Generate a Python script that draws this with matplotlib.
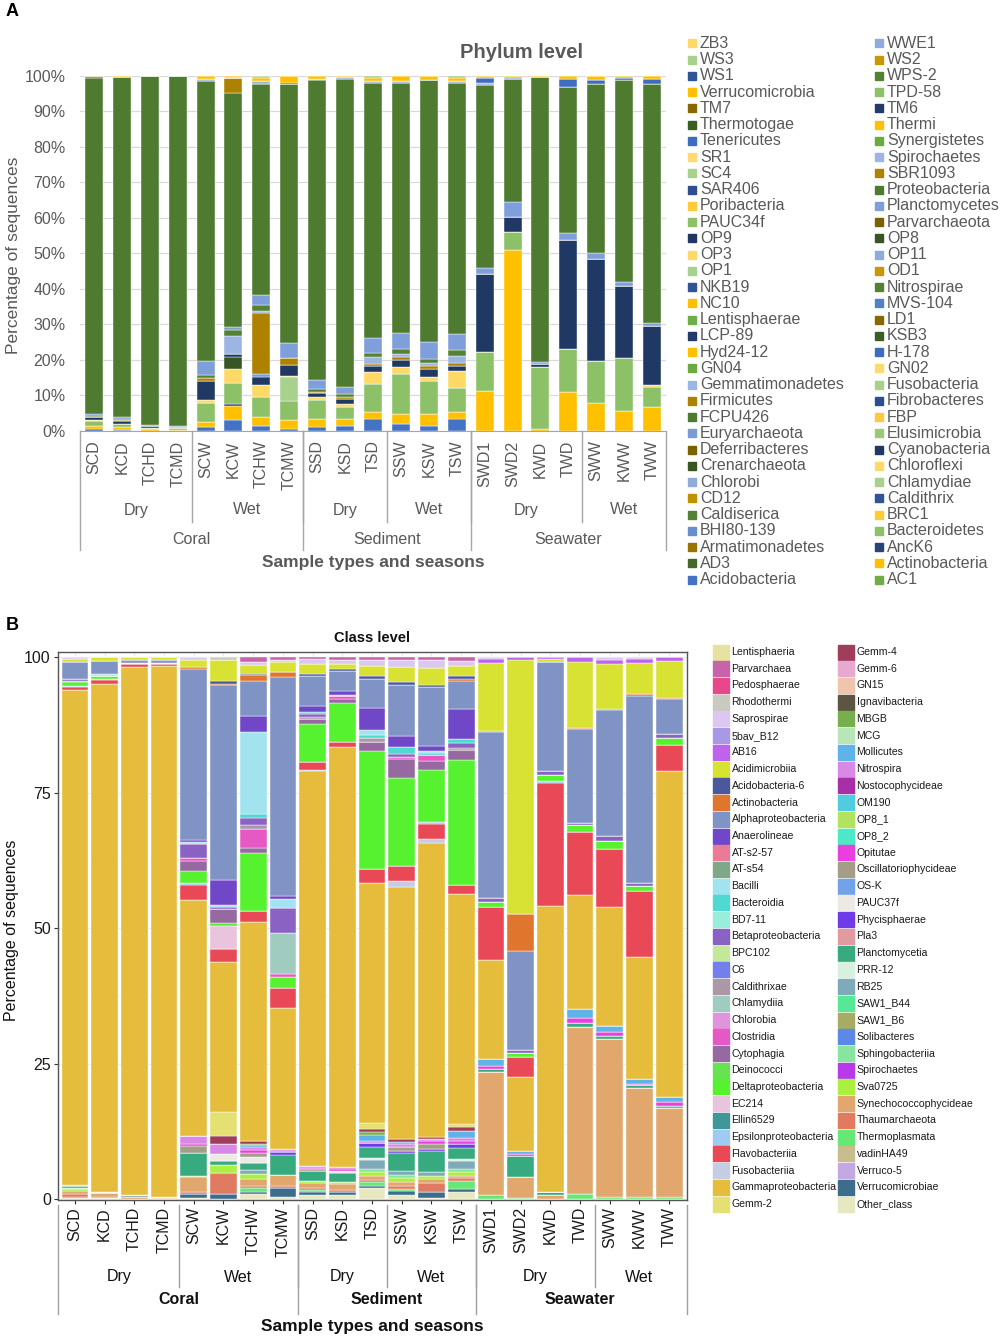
import matplotlib
matplotlib.use("Agg")
import matplotlib.pyplot as plt
import matplotlib.transforms as mtrans
import numpy as np
from matplotlib.patches import Rectangle
from matplotlib.lines import Line2D

plt.rcParams['font.family'] = ['Liberation Sans', 'DejaVu Sans']

# ---------------- samples / groups ----------------
samples = ["SCD", "KCD", "TCHD", "TCMD", "SCW", "KCW", "TCHW", "TCMW",
           "SSD", "KSD", "TSD", "SSW", "KSW", "TSW",
           "SWD1", "SWD2", "KWD", "TWD", "SWW", "KWW", "TWW"]
seasons = ["Dry", "Wet", "Dry", "Wet", "Dry", "Wet"]
season_n = [4, 4, 3, 3, 4, 3]
types = ["Coral", "Sediment", "Seawater"]
type_n = [8, 6, 7]

# ---------------- panel A: phylum level (%) ----------------
phy_acidobacteria = [0.5, 0.3, 0, 0, 0.9, 3.1, 1.4, 0.5, 1.1, 1.4, 3.3, 2.0, 1.3, 3.3, 0, 0, 0, 0, 0, 0, 0]
phy_actinobacteria = [0.9, 0.7, 0.4, 0.3, 1.5, 3.8, 2.5, 2.5, 2.2, 1.9, 1.9, 2.7, 3.4, 2.1, 11.3, 50.8, 0.5, 11.0, 7.7, 5.6, 6.8]
phy_anck6 = [0, 0, 0, 0, 0, 0.6, 0, 0, 0, 0, 0, 0, 0, 0, 0, 0, 0, 0, 0, 0, 0]
phy_bacteroidetes = [1.4, 0.9, 0.5, 0.5, 5.3, 5.7, 5.7, 5.3, 5.2, 3.3, 8.0, 11.3, 9.3, 6.8, 10.8, 5.1, 17.4, 12.0, 11.8, 14.8, 5.6]
phy_chlamydiae = [0, 0, 0, 0, 0, 0, 0, 6.7, 0, 0, 0, 0, 0, 0, 0, 0, 0, 0, 0, 0, 0]
phy_chloroflexi = [0.2, 0, 0, 0, 0.8, 4.0, 3.4, 0.5, 1.0, 0.9, 3.3, 2.0, 1.0, 4.8, 0, 0, 0, 0, 0, 0, 0.5]
phy_crenarchaeota = [0, 0, 0, 0, 0, 3.3, 0, 0, 0, 0, 0, 0, 0, 0, 0, 0, 0, 0, 0, 0, 0]
phy_cyanobacteria = [0.8, 0.9, 0.3, 0.2, 5.5, 0.8, 2.0, 3.0, 1.0, 1.5, 1.6, 2.0, 2.4, 1.4, 22.1, 4.3, 0.9, 30.6, 28.9, 20.2, 16.7]
phy_euryarchaeota = [0, 0, 0, 0, 0, 0, 1.0, 0, 0, 0, 0, 0, 0, 0, 0, 0, 0, 0, 0, 0, 0]
phy_firmicutes = [0, 0.3, 0, 0, 0.7, 0, 17.0, 2.0, 0.5, 0.5, 0.5, 0.6, 0.8, 0.8, 0, 0, 0, 0, 0, 0, 0]
phy_gemmatimonadetes = [0, 0, 0, 0, 0, 5.2, 0.8, 0, 0, 0, 2.0, 1.0, 1.0, 1.8, 0, 0, 0, 0, 0, 0, 0]
phy_nitrospirae = [0.2, 0.2, 0, 0, 1.0, 1.6, 1.5, 0, 0.8, 0.7, 1.2, 1.4, 1.0, 1.8, 0, 0, 0, 0, 0, 0, 0]
phy_planctomycetes = [0.7, 0.5, 0.4, 0.3, 4.0, 0.9, 2.8, 4.2, 2.5, 2.0, 4.2, 4.5, 4.7, 4.4, 1.7, 4.2, 0.5, 1.9, 1.6, 1.3, 0.7]
phy_proteobacteria = [94.6, 95.8, 98.2, 98.5, 78.5, 65.4, 59.6, 72.9, 84.1, 86.8, 71.2, 70.2, 73.8, 71.1, 51.4, 34.5, 80.3, 41.1, 47.6, 56.8, 67.4]
phy_sbr1093 = [0.7, 0, 0, 0, 0, 4.0, 0, 0, 0, 0, 0, 0, 0, 0, 0, 0, 0, 0, 0, 0, 0]
phy_spirochaetes = [0, 0, 0, 0, 0.5, 0, 0.8, 0, 0.3, 0.5, 0.6, 0.5, 0, 0.6, 0.5, 0, 0, 0, 0, 0, 0]
phy_tenericutes = [0, 0, 0, 0, 0, 0, 0, 0, 0, 0, 0, 0, 0, 0, 1.5, 0.5, 0, 2.1, 1.2, 0.6, 1.2]
phy_tm6 = [0, 0, 0, 0, 0, 0, 0, 0.3, 0, 0, 0, 0, 0, 0, 0, 0, 0, 0, 0, 0, 0]
phy_verrucomicrobia = [0, 0.4, 0.2, 0.2, 1.0, 0, 0.8, 2.1, 1.0, 0.5, 1.0, 1.6, 1.3, 0.8, 0.7, 0.6, 0.4, 1.0, 1.2, 0.7, 1.1]
phy_ws3 = [0, 0, 0, 0, 0, 0, 0.7, 0, 0, 0, 0.6, 0, 0, 0.7, 0, 0, 0, 0, 0, 0, 0]
phy_zb3 = [0, 0, 0, 0, 0, 0.8, 0, 0, 0, 0, 0, 0, 0, 0, 0, 0, 0, 0, 0, 0, 0]

phyla = ["AC1", "Acidobacteria", "Actinobacteria", "AD3", "AncK6", "Armatimonadetes",
         "Bacteroidetes", "BHI80-139", "BRC1", "Caldiserica", "Caldithrix", "CD12",
         "Chlamydiae", "Chlorobi", "Chloroflexi", "Crenarchaeota", "Cyanobacteria",
         "Deferribacteres", "Elusimicrobia", "Euryarchaeota", "FBP", "FCPU426",
         "Fibrobacteres", "Firmicutes", "Fusobacteria", "Gemmatimonadetes", "GN02",
         "GN04", "H-178", "Hyd24-12", "KSB3", "LCP-89", "LD1", "Lentisphaerae",
         "MVS-104", "NC10", "Nitrospirae", "NKB19", "OD1", "OP1", "OP11", "OP3",
         "OP8", "OP9", "Parvarchaeota", "PAUC34f", "Planctomycetes", "Poribacteria",
         "Proteobacteria", "SAR406", "SBR1093", "SC4", "Spirochaetes", "SR1",
         "Synergistetes", "Tenericutes", "Thermi", "Thermotogae", "TM6", "TM7",
         "TPD-58", "Verrucomicrobia", "WPS-2", "WS1", "WS2", "WS3", "WWE1", "ZB3"]
phy_colors = ["#70AD47", "#4472C4", "#FFC000", "#43682B", "#264478", "#997300",
              "#8CC168", "#698ED0", "#FFCD33", "#548235", "#2F5597", "#BF9000",
              "#A9D18E", "#8FAADC", "#FFD966", "#375623", "#1F3864", "#7F6000",
              "#9BC97A", "#7C9BD6", "#FFC93C", "#4E7B2F", "#2E4F8F", "#AD8200",
              "#A9D18E", "#9DB5E3", "#FFDA70", "#6AAA3F", "#3E6CC0", "#FFC000",
              "#3C5E25", "#213B6B", "#8A6800", "#70AD47", "#5580C8", "#FFC000",
              "#548235", "#2F5597", "#C99700", "#A9D18E", "#8FAADC", "#FFD966",
              "#375623", "#1F3864", "#7F6000", "#8CC168", "#7F9FDB", "#FFC93C",
              "#4E7B2F", "#2E4F8F", "#AD8200", "#A9D18E", "#9DB5E3", "#FFDA70",
              "#6AAA3F", "#3E6CC0", "#FFC000", "#3C5E25", "#213B6B", "#8A6800",
              "#8CC168", "#FFC000", "#548235", "#2F5597", "#C99700", "#A9D18E",
              "#8FAADC", "#FFD966"]

phy_data = {"Acidobacteria": phy_acidobacteria, "Actinobacteria": phy_actinobacteria,
            "AncK6": phy_anck6, "Bacteroidetes": phy_bacteroidetes,
            "Chlamydiae": phy_chlamydiae, "Chloroflexi": phy_chloroflexi,
            "Crenarchaeota": phy_crenarchaeota, "Cyanobacteria": phy_cyanobacteria,
            "Euryarchaeota": phy_euryarchaeota, "Firmicutes": phy_firmicutes,
            "Gemmatimonadetes": phy_gemmatimonadetes, "Nitrospirae": phy_nitrospirae,
            "Planctomycetes": phy_planctomycetes, "Proteobacteria": phy_proteobacteria,
            "SBR1093": phy_sbr1093, "Spirochaetes": phy_spirochaetes,
            "Tenericutes": phy_tenericutes, "TM6": phy_tm6,
            "Verrucomicrobia": phy_verrucomicrobia, "WS3": phy_ws3, "ZB3": phy_zb3}

# ---------------- panel B: class level (%) ----------------
cls_parvarchaea = [0, 0, 0, 0, 0, 0, 0.8, 0.5, 0.3, 0.5, 0.5, 0.5, 0.5, 0.7, 0, 0, 0, 0, 0, 0, 0]
cls_rhodothermi = [0, 0, 0, 0, 0, 0.5, 0, 0, 0, 0, 0, 0, 0, 0, 0, 0, 0, 0, 0, 0, 0]
cls_saprospirae = [0.2, 0, 0, 0, 0.5, 0, 0.5, 0.4, 0.9, 0.7, 1.0, 1.2, 1.4, 0.9, 0.2, 0, 0, 0, 0.5, 0.3, 0]
cls_ab16 = [0, 0, 0, 0, 0, 0, 0, 0, 0, 0, 0, 0, 0, 0, 0.8, 0.5, 0.3, 0.8, 0.7, 0.7, 0.7]
cls_acidimicrobiia = [0.7, 0.7, 0.4, 0.5, 1.2, 3.8, 1.7, 1.7, 1.9, 1.0, 1.9, 2.7, 3.0, 1.8, 12.3, 46.1, 0.5, 12.0, 8.2, 5.8, 6.7]
cls_acidobacteria6 = [0, 0, 0, 0, 0, 0.5, 0.3, 0, 0.3, 0.3, 0.5, 0.5, 0.4, 0.5, 0, 0, 0, 0, 0, 0, 0]
cls_actinobacteria = [0, 0, 0, 0, 0.4, 0.2, 1.0, 0.9, 0, 0, 0, 0, 0, 0.3, 0.2, 6.8, 0, 0.2, 0.2, 0.2, 0.2]
cls_alpha = [3.0, 2.4, 0.7, 0.5, 31.2, 35.5, 6.4, 39.7, 5.6, 3.6, 5.3, 9.1, 10.7, 5.1, 30.2, 17.9, 20.0, 17.0, 23.0, 34.5, 6.5]
cls_anaerolineae = [0, 0, 0, 0, 0.5, 4.6, 2.9, 0.5, 1.0, 0.7, 4.1, 1.9, 0.9, 5.5, 0, 0, 0, 0, 0, 0, 0]
cls_bacilli = [0, 0.3, 0, 0, 0.4, 0.3, 15.0, 1.7, 0, 0, 0.9, 0, 0.3, 0, 0, 0, 0, 0, 0, 0, 0]
cls_bacteroidia = [0, 0, 0, 0, 0, 0, 0.7, 0, 0.3, 0.3, 0.5, 1.4, 0.3, 0.7, 0, 0, 0, 0, 0, 0, 0]
cls_beta = [0.4, 0, 0, 0, 2.5, 0.4, 1.4, 4.6, 0.7, 0, 0, 0.5, 0, 1.0, 0.7, 0.5, 0.7, 0.5, 0.9, 0.5, 0.7]
cls_caldithrixae = [0, 0, 0, 0, 0, 0, 0.7, 0, 0.3, 0, 0.7, 0, 0, 0.4, 0, 0, 0, 0, 0, 0, 0]
cls_chlamydiia = [0, 0, 0, 0, 0, 0, 0, 7.4, 0, 0, 0, 0, 0, 0, 0, 0, 0, 0, 0, 0, 0]
cls_clostridia = [0, 0, 0, 0, 0.5, 0, 3.4, 0.5, 0, 0.4, 0, 0.3, 1.2, 0, 0, 0, 0, 0, 0, 0, 0]
cls_cytophagia = [0.2, 0, 0, 0, 1.9, 2.5, 0.9, 0, 0.9, 0.8, 1.7, 3.4, 1.6, 1.7, 0, 0, 0, 0, 0, 0, 0]
cls_delta = [0.7, 0.6, 0.2, 0.2, 2.2, 0.7, 10.7, 2.0, 7.0, 7.1, 21.5, 15.7, 9.2, 22.7, 0.9, 0.8, 1.2, 1.2, 1.5, 0.8, 1.2]
cls_ec214 = [0, 0, 0, 0, 0, 4.1, 0, 0, 0, 0, 0, 0, 0, 0, 0, 0, 0, 0, 0, 0, 0]
cls_epsilon = [0.2, 0.2, 0, 0, 0.3, 0, 0, 0, 0, 0, 0, 0, 0.5, 0, 0, 0, 0.3, 0, 0, 0, 0]
cls_flavo = [0.6, 0.7, 0.5, 0.3, 2.7, 2.3, 2.0, 3.6, 1.5, 1.0, 2.6, 2.6, 2.7, 1.7, 9.7, 3.6, 22.7, 11.5, 10.5, 12.3, 4.8]
cls_fuso = [0, 0, 0, 0, 0, 0, 0, 0, 0.2, 0, 0, 1.2, 0.7, 0, 0, 0, 0, 0, 0, 0, 0]
cls_gamma = [91.4, 93.0, 97.3, 97.8, 43.3, 27.4, 40.1, 25.5, 72.4, 76.5, 43.8, 44.9, 52.8, 41.8, 18.0, 13.5, 52.5, 20.7, 21.7, 22.3, 59.8]
cls_gemm2 = [0, 0, 0, 0, 0, 4.3, 0, 0, 0, 0, 1.0, 0, 0, 0.5, 0, 0, 0, 0, 0, 0, 0]
cls_gemm4 = [0, 0, 0, 0, 0, 1.5, 0.4, 0, 0, 0, 0.7, 0.4, 0.3, 0.7, 0, 0, 0, 0, 0, 0, 0]
cls_mbgb = [0, 0, 0, 0, 0, 0, 0.3, 0, 0, 0, 0.5, 0, 0, 0, 0, 0, 0, 0, 0, 0, 0]
cls_mollicutes = [0, 0, 0, 0, 0, 0, 0.3, 0, 0, 0, 1.0, 0.5, 0, 1.4, 1.2, 0.5, 0, 1.6, 1.2, 0.9, 0.9]
cls_nitrospira = [0, 0, 0, 0, 1.4, 1.9, 0.6, 0.4, 0.3, 0.3, 0.4, 0.5, 0.5, 0.5, 0, 0, 0, 0, 0, 0, 0]
cls_opitutae = [0.2, 0, 0, 0, 0.3, 0, 0.5, 0.3, 0.3, 0.4, 0, 0, 0.5, 0.5, 0.6, 0.4, 0, 0.9, 0.7, 0.3, 0.7]
cls_oscillatorio = [0, 0, 0, 0, 1.4, 0, 0.8, 0, 0.4, 0, 0, 0.7, 0.9, 0, 0, 0, 0, 0, 0, 0, 0]
cls_pauc37f = [0, 0, 0, 0, 0, 1.2, 1.0, 0, 0, 0.3, 0, 0, 0, 0, 0, 0, 0, 0, 0, 0, 0]
cls_phycisphaerae = [0, 0, 0, 0, 0, 0, 0, 0.4, 0, 0, 0.7, 0.4, 0.4, 0.7, 0, 0, 0, 0, 0, 0, 0]
cls_planctomycetia = [0.3, 0.3, 0, 0, 4.1, 0.7, 1.3, 3.7, 1.8, 1.7, 2.0, 3.2, 3.7, 2.0, 0.5, 3.8, 0.5, 0.7, 0.6, 0.5, 0.5]
cls_prr12 = [0, 0, 0, 0, 0, 0, 0, 0, 0, 0, 0.5, 0, 0, 0.5, 0, 0, 0, 0, 0, 0, 0]
cls_rb25 = [0, 0, 0.3, 0.2, 0, 0, 0.8, 0, 0, 0, 1.6, 0.7, 0.7, 1.4, 0, 0, 0, 0, 0, 0, 0]
cls_sphingo = [0.2, 0, 0, 0, 0, 0, 0, 0, 0, 0, 0.5, 0.5, 0, 0.5, 0, 0, 0, 0, 0, 0, 0]
cls_sva0725 = [0.3, 0, 0, 0, 0.3, 1.5, 0.8, 0, 0.4, 0.4, 0.7, 0.7, 0.5, 0.7, 0, 0, 0, 0, 0, 0, 0]
cls_synecho = [0.6, 0.6, 0.4, 0.3, 2.7, 0, 1.4, 1.9, 0.8, 1.0, 0.7, 0.7, 0.7, 0.5, 22.4, 3.7, 0.8, 30.4, 28.7, 19.9, 16.2]
cls_thaum = [0.5, 0.3, 0, 0, 0.3, 3.8, 0.3, 0.5, 0.4, 0.4, 0.5, 0.5, 1.7, 0.5, 0, 0, 0, 0, 0, 0, 0]
cls_thermoplasmata = [0, 0, 0, 0, 0, 0, 0.7, 0, 0.4, 0, 0.7, 0.5, 0, 1.4, 0.7, 0.3, 0, 0.9, 0.5, 0.5, 0.5]
cls_verrucomicrobiae = [0.3, 0, 0, 0, 0.7, 0.9, 0.4, 1.5, 0.6, 0.5, 0.4, 0.7, 1.0, 0.5, 0, 0, 0, 0, 0, 0, 0]
cls_other = [0.2, 0.2, 0, 0, 0.3, 0.1, 1.0, 0.5, 0.7, 0.8, 2.0, 0.7, 0.3, 1.4, 0, 0, 0, 0, 0, 0, 0]

classes = ["Lentisphaeria", "Parvarchaea", "Pedosphaerae", "Rhodothermi", "Saprospirae",
           "5bav_B12", "AB16", "Acidimicrobiia", "Acidobacteria-6", "Actinobacteria",
           "Alphaproteobacteria", "Anaerolineae", "AT-s2-57", "AT-s54", "Bacilli",
           "Bacteroidia", "BD7-11", "Betaproteobacteria", "BPC102", "C6", "Caldithrixae",
           "Chlamydiia", "Chlorobia", "Clostridia", "Cytophagia", "Deinococci",
           "Deltaproteobacteria", "EC214", "Ellin6529", "Epsilonproteobacteria",
           "Flavobacteriia", "Fusobacteriia", "Gammaproteobacteria", "Gemm-2",
           "Gemm-4", "Gemm-6", "GN15", "Ignavibacteria", "MBGB", "MCG", "Mollicutes",
           "Nitrospira", "Nostocophycideae", "OM190", "OP8_1", "OP8_2", "Opitutae",
           "Oscillatoriophycideae", "OS-K", "PAUC37f", "Phycisphaerae", "Pla3",
           "Planctomycetia", "PRR-12", "RB25", "SAW1_B44", "SAW1_B6", "Solibacteres",
           "Sphingobacteriia", "Spirochaetes", "Sva0725", "Synechococcophycideae",
           "Thaumarchaeota", "Thermoplasmata", "vadinHA49", "Verruco-5",
           "Verrucomicrobiae", "Other_class"]
cls_colors = ["#E6E3A1", "#C862A9", "#E8488A", "#C9C9BD", "#DBC7EF", "#A998E5", "#BD63EE",
              "#D7E233", "#4A589C", "#E0762E", "#7F93C4", "#7047C7", "#E97B98", "#7FA889",
              "#A1E4EF", "#4FDAD1", "#96EEDB", "#8A62C3", "#C4E899", "#737FEE", "#AA98A9",
              "#A0CCC0", "#E094DC", "#E659C5", "#966AA0", "#66E253", "#57F22F", "#E8C5DD",
              "#3F9897", "#A0CAF0", "#E94856", "#C5CDE2", "#E5BC3B", "#E4E072", "#9F3D5A",
              "#E8A9D1", "#F0C5AD", "#5C5541", "#77AF4A", "#B8E6B8", "#5FB3E6", "#D889E6",
              "#A92FA6", "#4FCCE0", "#B1E35E", "#4DE9C6", "#E83FDE", "#A49D88", "#72A3EA",
              "#EDEAE6", "#6F3BE8", "#E09B9F", "#37AB7F", "#D7F1DF", "#7FAABA", "#57E896",
              "#A7AC62", "#5A89E6", "#88E5A0", "#B838EA", "#A9F040", "#E1A76C", "#E07B62",
              "#67E876", "#C8BD8E", "#C4A8E4", "#3D6D8B", "#E7E7C0"]

cls_data = {"Parvarchaea": cls_parvarchaea, "Rhodothermi": cls_rhodothermi,
            "Saprospirae": cls_saprospirae, "AB16": cls_ab16,
            "Acidimicrobiia": cls_acidimicrobiia, "Acidobacteria-6": cls_acidobacteria6,
            "Actinobacteria": cls_actinobacteria, "Alphaproteobacteria": cls_alpha,
            "Anaerolineae": cls_anaerolineae, "Bacilli": cls_bacilli,
            "Bacteroidia": cls_bacteroidia, "Betaproteobacteria": cls_beta,
            "Caldithrixae": cls_caldithrixae, "Chlamydiia": cls_chlamydiia,
            "Clostridia": cls_clostridia, "Cytophagia": cls_cytophagia,
            "Deltaproteobacteria": cls_delta, "EC214": cls_ec214,
            "Epsilonproteobacteria": cls_epsilon, "Flavobacteriia": cls_flavo,
            "Fusobacteriia": cls_fuso, "Gammaproteobacteria": cls_gamma,
            "Gemm-2": cls_gemm2, "Gemm-4": cls_gemm4, "MBGB": cls_mbgb,
            "Mollicutes": cls_mollicutes, "Nitrospira": cls_nitrospira,
            "Opitutae": cls_opitutae, "Oscillatoriophycideae": cls_oscillatorio,
            "PAUC37f": cls_pauc37f, "Phycisphaerae": cls_phycisphaerae,
            "Planctomycetia": cls_planctomycetia, "PRR-12": cls_prr12, "RB25": cls_rb25,
            "Sphingobacteriia": cls_sphingo, "Sva0725": cls_sva0725,
            "Synechococcophycideae": cls_synecho, "Thaumarchaeota": cls_thaum,
            "Thermoplasmata": cls_thermoplasmata, "Verrucomicrobiae": cls_verrucomicrobiae,
            "Other_class": cls_other}

# ---------------- figure ----------------
W, H = 1002, 1339
fig = plt.figure(figsize=(W / 100, H / 100), dpi=100)


def fx(x):
    return x / W


def fy(y):
    return 1 - y / H


def stack(ax, order, data, colors, width, lw):
    x = np.arange(len(samples))
    total = sum(np.array(v, float) for v in data.values())
    bottom = np.zeros(len(samples))
    for name in order:
        if name not in data:
            continue
        v = np.array(data[name], float) / total * 100
        ax.bar(x, v, width, bottom=bottom, color=colors[name],
               edgecolor="white", linewidth=lw, zorder=2)
        bottom += v


def group_axis(ax, y_season, y_type, y_short, y_full, y_top, fs, bold_type, col, lcol):
    tr = mtrans.blended_transform_factory(ax.transData, fig.transFigure)
    lo, hi = ax.get_xlim()
    start = 0
    for s, n in zip(seasons, season_n):
        fig.text((start + start + n - 1) / 2, fy(y_season), s, transform=tr,
                 ha="center", va="center", fontsize=fs, color=col)
        start += n
        if start < len(samples):
            fig.add_artist(Line2D([start - 0.5] * 2, [fy(y_top), fy(y_short)],
                                  transform=tr, color=lcol, lw=1))
    start = 0
    for t, n in zip(types, type_n):
        fig.text((start + start + n - 1) / 2, fy(y_type), t, transform=tr,
                 ha="center", va="center", fontsize=fs, color=col,
                 fontweight="bold" if bold_type else "normal")
        start += n
        if start < len(samples):
            fig.add_artist(Line2D([start - 0.5] * 2, [fy(y_top), fy(y_full)],
                                  transform=tr, color=lcol, lw=1))
    for xe in (lo, hi):
        fig.add_artist(Line2D([xe, xe], [fy(y_top), fy(y_full)],
                              transform=tr, color=lcol, lw=1))


# ================= Panel A =================
grey = "#595959"
axA = fig.add_axes([fx(80), fy(430.7), (666 - 80) / W, (430.7 - 75.5) / H])
stack(axA, phyla, phy_data, dict(zip(phyla, phy_colors)), 0.645, 0.3)
axA.set_xlim(-0.5, 20.5)
axA.set_ylim(0, 100)
axA.set_yticks(range(0, 101, 10))
axA.set_yticklabels([f"{v}%" for v in range(0, 101, 10)])
axA.set_xticks(range(len(samples)))
axA.set_xticklabels(samples, rotation=90)
axA.tick_params(axis="y", length=0, pad=10.5, labelsize=11.5, labelcolor=grey)
axA.tick_params(axis="x", length=0, pad=7, labelsize=11.5, labelcolor=grey)
for sp in ("left", "right", "top"):
    axA.spines[sp].set_visible(False)
axA.spines["bottom"].set_color("#A6A6A6")
axA.grid(axis="y", color="#D9D9D9", lw=0.9, zorder=0)
axA.set_axisbelow(True)
group_axis(axA, 510, 540, 522, 550, 431, 11.5, False, grey, "#A6A6A6")
fig.text(fx(373), fy(563), "Sample types and seasons", ha="center", va="center",
         fontsize=12.5, fontweight="bold", color=grey)
fig.text(fx(14), fy(255), "Percentage of sequences", rotation=90, ha="center",
         va="center", fontsize=12.5, color=grey)
fig.text(fx(521), fy(52), "Phylum level", ha="center", va="center", fontsize=14.5,
         fontweight="bold", color=grey)
fig.text(fx(6), fy(12), "A", ha="left", va="center", fontsize=13, fontweight="bold")

# legend A (reverse alphabetical, two columns, row-major)
rev_phy = list(zip(phyla, phy_colors))[::-1]
for k, (name, c) in enumerate(rev_phy):
    r, col = divmod(k, 2)
    yc = 43.3 + r * 16.25
    xs = 688 if col == 0 else 875
    fig.add_artist(Rectangle((fx(xs), fy(yc + 4)), 8 / W, 8 / H, color=c,
                             transform=fig.transFigure))
    fig.text(fx(xs + 12), fy(yc), name, ha="left", va="center", fontsize=11.5,
             color=grey)

# ================= Panel B =================
axB = fig.add_axes([fx(57.7), fy(1200), (687 - 57.7) / W, (1200 - 652) / H])
stack(axB, classes[::-1], cls_data, dict(zip(classes, cls_colors)), 0.9, 0.3)
axB.set_xlim(-0.58, 20.6)
axB.set_ylim(-0.13, 101.0)
axB.set_yticks([0, 25, 50, 75, 100])
axB.set_yticks([12.5, 37.5, 62.5, 87.5], minor=True)
axB.set_xticks(range(len(samples)))
axB.set_xticklabels(samples, rotation=90)
axB.tick_params(axis="both", which="major", length=3, width=0.8, color="#333333",
                labelsize=11.5, labelcolor="#1a1a1a", pad=2)
axB.tick_params(axis="y", which="minor", length=0)
axB.grid(which="major", color="#EBEBEB", lw=0.9, zorder=0)
axB.grid(which="minor", axis="y", color="#F2F2F2", lw=0.5, zorder=0)
axB.set_axisbelow(True)
for sp in axB.spines.values():
    sp.set_color("#555555")
    sp.set_linewidth(1)
group_axis(axB, 1277, 1300, 1287, 1314, 1205, 11.5, True, "#111111", "#A0A0A0")
fig.text(fx(372), fy(1327), "Sample types and seasons", ha="center", va="center",
         fontsize=12.5, fontweight="bold", color="#111111")
fig.text(fx(12), fy(930), "Percentage of sequences", rotation=90, ha="center",
         va="center", fontsize=11.5, color="#111111")
fig.text(fx(372), fy(638), "Class level", ha="center", va="center", fontsize=10.5,
         fontweight="bold", color="#111111")
fig.text(fx(6), fy(625), "B", ha="left", va="center", fontsize=13, fontweight="bold")

# legend B (column-major)
for k, (name, c) in enumerate(zip(classes, cls_colors)):
    col, r = divmod(k, 34)
    yc = 652 + r * 16.73
    xs = 713 if col == 0 else 838
    fig.add_artist(Rectangle((fx(xs), fy(yc + 7.5)), 15.5 / W, 15 / H, color=c,
                             transform=fig.transFigure))
    fig.text(fx(xs + 18.5), fy(yc), name, ha="left", va="center", fontsize=7.6,
             color="#1a1a1a")

fig.savefig("out.png", dpi=100)
